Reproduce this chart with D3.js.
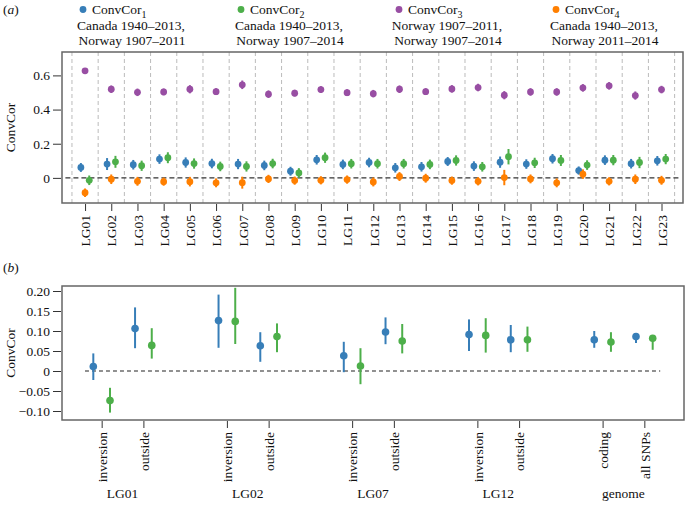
<!DOCTYPE html>
<html><head><meta charset="utf-8">
<script src="https://cdn.jsdelivr.net/npm/d3@7"></script>
<style>
body{margin:0;background:#fff;}
svg{display:block;}
svg text{font-family:"Times New Roman","Liberation Serif",Tinos,Times,serif !important;}
</style></head>
<body><svg id="chart" width="686" height="511"></svg>
<script>
// ---------- data panel (a) ----------
const categories = ["LG01","LG02","LG03","LG04","LG05","LG06","LG07","LG08","LG09","LG10","LG11","LG12","LG13","LG14","LG15","LG16","LG17","LG18","LG19","LG20","LG21","LG22","LG23"];
const convCor1 = [0.061,0.081,0.077,0.110,0.090,0.084,0.081,0.073,0.039,0.106,0.079,0.090,0.059,0.065,0.096,0.069,0.092,0.081,0.112,0.043,0.104,0.083,0.100];
const convCor2 = [-0.014,0.094,0.071,0.118,0.084,0.067,0.067,0.084,0.029,0.118,0.083,0.083,0.083,0.079,0.102,0.065,0.124,0.088,0.102,0.075,0.104,0.090,0.110];
const convCor3 = [0.627,0.519,0.501,0.503,0.519,0.505,0.545,0.490,0.496,0.517,0.499,0.493,0.519,0.505,0.521,0.529,0.484,0.503,0.503,0.527,0.539,0.482,0.517];
const convCor4 = [-0.087,-0.008,-0.020,-0.022,-0.022,-0.029,-0.028,-0.006,-0.016,-0.014,-0.010,-0.024,0.008,-0.002,-0.016,-0.020,0.002,-0.006,-0.029,0.022,-0.020,-0.008,-0.014];
const err1 = [0.026,0.035,0.028,0.028,0.030,0.028,0.030,0.028,0.026,0.028,0.028,0.028,0.028,0.028,0.026,0.028,0.033,0.028,0.028,0.024,0.028,0.028,0.028];
const err2 = [0.028,0.035,0.030,0.032,0.030,0.028,0.030,0.028,0.028,0.030,0.028,0.028,0.028,0.028,0.030,0.028,0.045,0.030,0.032,0.028,0.030,0.033,0.030];
const err3 = [0.014,0.022,0.022,0.020,0.024,0.020,0.025,0.022,0.020,0.020,0.020,0.022,0.022,0.020,0.022,0.022,0.024,0.022,0.022,0.022,0.022,0.024,0.022];
const err4 = [0.025,0.028,0.026,0.024,0.028,0.026,0.035,0.024,0.024,0.024,0.024,0.026,0.026,0.026,0.024,0.024,0.045,0.026,0.026,0.028,0.024,0.028,0.026];
const yTicksA = [0, 0.2, 0.4, 0.6];
const legendTitles = ["ConvCor","ConvCor","ConvCor","ConvCor"];
const legendSubs = ["1","2","3","4"];
const legendLine2 = ["Canada 1940–2013,","Canada 1940–2013,","Norway 1907–2011,","Canada 1940–2013,"];
const legendLine3 = ["Norway 1907–2011","Norway 1907–2014","Norway 1907–2014","Norway 2011–2014"];

// ---------- data panel (b) ----------
const bCategories = ["inversion","outside","inversion","outside","inversion","outside","inversion","outside","coding","all SNPs"];
const bPositions = [0,1,3,4,6,7,9,10,12,13];
const bGroups = ["LG01","LG02","LG07","LG12","genome"];
const bConv1 = [0.011,0.106,0.126,0.063,0.038,0.0975,0.091,0.078,0.078,0.086];
const bConv1Lo = [-0.0225,0.057,0.058,0.023,-0.003,0.067,0.050,0.047,0.058,0.070];
const bConv1Hi = [0.044,0.159,0.191,0.097,0.073,0.134,0.129,0.115,0.100,0.093];
const bConv2 = [-0.074,0.064,0.124,0.086,0.0125,0.075,0.089,0.078,0.0725,0.082];
const bConv2Lo = [-0.104,0.031,0.0675,0.047,-0.033,0.044,0.046,0.048,0.048,0.053];
const bConv2Hi = [-0.042,0.107,0.208,0.119,0.057,0.1175,0.132,0.111,0.097,0.090];
const yTicksB = [-0.10,-0.05,0,0.05,0.10,0.15,0.20];

const colors = ["#377eb8","#4daf4a","#984ea3","#ff7f00"];
const svg = d3.select("#chart");
const frameColor = "#666";
const fs = 13.5;

// ================= PANEL A =================
const A = {l:62, r:683, t:52, b:203};
const xa = d3.scaleLinear().domain([-0.88, 22.82]).range([A.l, A.r]);
const ya = d3.scaleLinear().domain([-0.147, 0.737]).range([A.b, A.t]);
const gA = svg.append("g");

const seps = d3.range(categories.length + 1).map(i => i - 0.5);
gA.selectAll("line.sep").data(seps).join("line")
  .attr("x1", d => xa(d)).attr("x2", d => xa(d))
  .attr("y1", A.t).attr("y2", A.b)
  .attr("stroke", "#bbb").attr("stroke-width", 1).attr("stroke-dasharray", "4,3");

gA.append("line").attr("x1", xa(-0.75)).attr("x2", xa(22.7))
  .attr("y1", ya(0)).attr("y2", ya(0))
  .attr("stroke", "#333").attr("stroke-width", 1.2).attr("stroke-dasharray", "5,3");

const seriesA = [
  {v: convCor1, e: err1, off: -0.16, c: colors[0]},
  {v: convCor2, e: err2, off: 0.16, c: colors[1]},
  {v: convCor3, e: err3, off: 0, c: colors[2]},
  {v: convCor4, e: err4, off: 0, c: colors[3]}
];
seriesA.forEach(s => {
  const g = gA.append("g");
  g.selectAll("line").data(s.v).join("line")
    .attr("x1", (d,i) => xa(i + s.off)).attr("x2", (d,i) => xa(i + s.off))
    .attr("y1", (d,i) => ya(d - s.e[i])).attr("y2", (d,i) => ya(d + s.e[i]))
    .attr("stroke", s.c).attr("stroke-width", 2);
  g.selectAll("circle").data(s.v).join("circle")
    .attr("cx", (d,i) => xa(i + s.off)).attr("cy", d => ya(d))
    .attr("r", 3.4).attr("fill", s.c);
});

gA.append("rect").attr("x", A.l).attr("y", A.t).attr("width", A.r - A.l).attr("height", A.b - A.t)
  .attr("fill", "none").attr("stroke", frameColor).attr("stroke-width", 1.5);

const yAxA = gA.append("g").attr("transform", `translate(${A.l - 1},0)`)
  .call(d3.axisLeft(ya).tickValues(yTicksA).tickSize(8).tickFormat(d => d === 0 ? "0" : d3.format(".1f")(d)));
yAxA.select(".domain").remove();
yAxA.selectAll("line").attr("stroke", "#333");
yAxA.selectAll("text").attr("font-size", fs).attr("fill", "#111").attr("x", -11);

const xAxA = gA.append("g").attr("transform", `translate(0,${A.b + 1})`)
  .call(d3.axisBottom(xa).tickValues(d3.range(categories.length)).tickSize(7).tickFormat(i => categories[i]));
xAxA.select(".domain").remove();
xAxA.selectAll("line").attr("stroke", "#333");
xAxA.selectAll("text").attr("font-size", fs).attr("fill", "#111")
  .attr("transform", "rotate(-90)").attr("text-anchor", "end").attr("x", -11).attr("y", 0).attr("dy", "0.35em");

svg.append("text").attr("transform", `translate(15,${(A.t + A.b) / 2}) rotate(-90)`)
  .attr("text-anchor", "middle").attr("font-size", fs).attr("fill", "#111").text("ConvCor");

const tagA = svg.append("text").attr("x", 3).attr("y", 14).attr("font-size", fs).attr("fill", "#111");
tagA.append("tspan").text("(");
tagA.append("tspan").attr("font-style", "italic").text("a");
tagA.append("tspan").text(")");

const legX = [83, 241, 399, 556];
legX.forEach((x, i) => {
  svg.append("circle").attr("cx", x).attr("cy", 9.5).attr("r", 3.4).attr("fill", colors[i]);
  const t = svg.append("text").attr("x", x + 9).attr("y", 14).attr("font-size", fs).attr("fill", "#111");
  t.append("tspan").text(legendTitles[i]);
  t.append("tspan").attr("font-size", 10).attr("dy", 3.5).text(legendSubs[i]);
  svg.append("text").attr("x", x + 48).attr("y", 30).attr("text-anchor", "middle").attr("font-size", fs).attr("fill", "#111").text(legendLine2[i]);
  svg.append("text").attr("x", x + 49).attr("y", 45).attr("text-anchor", "middle").attr("font-size", fs).attr("fill", "#111").text(legendLine3[i]);
});

// ================= PANEL B =================
const B = {l:62, r:684, t:286, b:420};
const xb = d3.scaleLinear().domain([-0.95, 13.95]).range([B.l, B.r]);
const yb = d3.scaleLinear().domain([-0.1225, 0.2125]).range([B.b, B.t]);
const gB = svg.append("g");

gB.append("line").attr("x1", xb(-0.4)).attr("x2", xb(13.38))
  .attr("y1", yb(0)).attr("y2", yb(0))
  .attr("stroke", "#222").attr("stroke-width", 1.2).attr("stroke-dasharray", "4,3");

const seriesB = [
  {v: bConv1, lo: bConv1Lo, hi: bConv1Hi, off: -0.2, c: colors[0]},
  {v: bConv2, lo: bConv2Lo, hi: bConv2Hi, off: 0.2, c: colors[1]}
];
seriesB.forEach(s => {
  const g = gB.append("g");
  g.selectAll("line").data(s.v).join("line")
    .attr("x1", (d,i) => xb(bPositions[i] + s.off)).attr("x2", (d,i) => xb(bPositions[i] + s.off))
    .attr("y1", (d,i) => yb(s.lo[i])).attr("y2", (d,i) => yb(s.hi[i]))
    .attr("stroke", s.c).attr("stroke-width", 2);
  g.selectAll("circle").data(s.v).join("circle")
    .attr("cx", (d,i) => xb(bPositions[i] + s.off)).attr("cy", d => yb(d))
    .attr("r", 3.8).attr("fill", s.c);
});

gB.append("rect").attr("x", B.l).attr("y", B.t).attr("width", B.r - B.l).attr("height", B.b - B.t)
  .attr("fill", "none").attr("stroke", frameColor).attr("stroke-width", 1.5);

const fmtB = d => d === 0 ? "0" : (d < 0 ? "\u2212" + d3.format(".2f")(-d) : d3.format(".2f")(d));
const yAxB = gB.append("g").attr("transform", `translate(${B.l - 1},0)`)
  .call(d3.axisLeft(yb).tickValues(yTicksB).tickSize(8).tickFormat(fmtB));
yAxB.select(".domain").remove();
yAxB.selectAll("line").attr("stroke", "#333");
yAxB.selectAll("text").attr("font-size", fs).attr("fill", "#111").attr("x", -11);

const xAxB = gB.append("g").attr("transform", `translate(0,${B.b + 1})`)
  .call(d3.axisBottom(xb).tickValues(bPositions).tickSize(7).tickFormat(p => bCategories[bPositions.indexOf(p)]));
xAxB.select(".domain").remove();
xAxB.selectAll("line").attr("stroke", "#333");
xAxB.selectAll("text").attr("font-size", fs).attr("fill", "#111")
  .attr("transform", "rotate(-90)").attr("text-anchor", "end").attr("x", -11).attr("y", 0).attr("dy", "0.35em");

gB.selectAll("text.grp").data(bGroups).join("text")
  .attr("x", (d,i) => xb((bPositions[2*i] + bPositions[2*i+1]) / 2))
  .attr("y", 498).attr("text-anchor", "middle").attr("font-size", fs).attr("fill", "#111").text(d => d);

svg.append("text").attr("transform", `translate(15,${(B.t + B.b) / 2}) rotate(-90)`)
  .attr("text-anchor", "middle").attr("font-size", fs).attr("fill", "#111").text("ConvCor");

const tagB = svg.append("text").attr("x", 3).attr("y", 272).attr("font-size", fs).attr("fill", "#111");
tagB.append("tspan").text("(");
tagB.append("tspan").attr("font-style", "italic").text("b");
tagB.append("tspan").text(")");
</script></body></html>
